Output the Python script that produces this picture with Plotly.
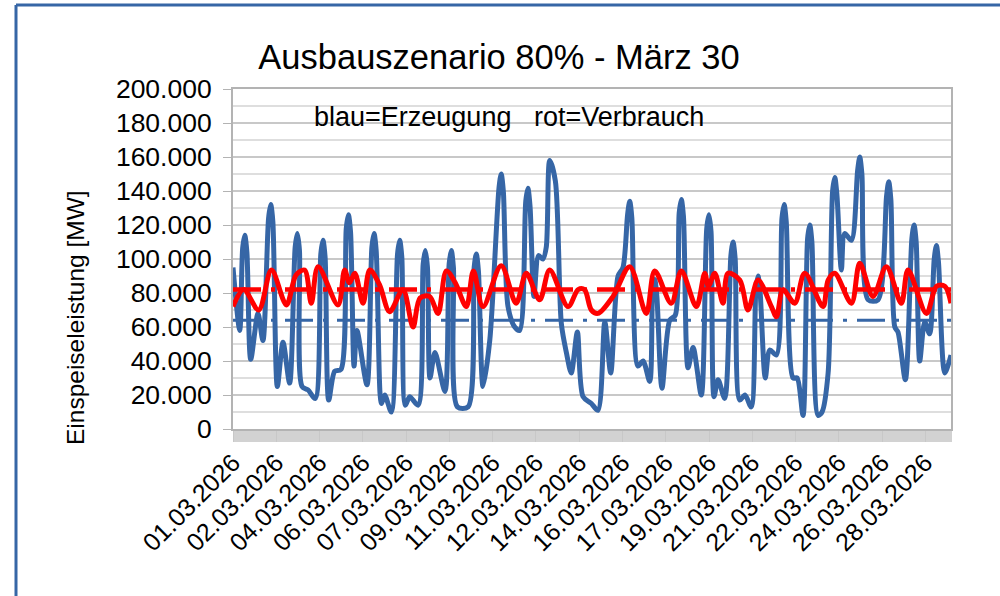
import plotly.graph_objects as go

# ---------------- data ----------------
# hours since 01.03.2026 00:00, power in thousands of MW
blue_hours = [0, 6.3, 9, 11, 13, 16.6, 23.4, 28, 33.3, 35.3, 37.3, 41.5, 46.8, 53, 58.2, 60.2,
              62.2, 64.6, 70.2, 77, 82.2, 84.2, 86.2, 89.6, 95.2, 101, 106, 108, 110, 113.3,
              116, 125.4, 130, 132, 134, 137.6, 139, 142, 148.2, 154, 156, 158, 161.3, 165.4,
              173.2, 178, 180, 182, 184.4, 189, 198.4, 202.3, 204.3, 206.3, 210, 220, 225.7,
              227.7, 229.7, 234, 240.3, 249, 251, 253, 257.4, 263.7, 268.3, 274, 276, 278,
              281.7, 286, 290, 293.2, 296.4, 301.7, 307.3, 312, 316.6, 322.3, 327.6, 335.4,
              341.6, 348, 353.5, 360.4, 365, 369.3, 371.3, 373.3, 379, 383.8, 390, 392.7,
              394.7, 396.7, 401.5, 408.8, 414, 417.6, 419.6, 421.6, 425.9, 430.6, 438.3,
              443.4, 445.4, 447.4, 450.2, 454, 460.2, 466, 468, 470, 474.3, 479.2, 485, 489.4,
              491.4, 493.4, 498.2, 502.4, 508.6, 513.8, 515.8, 517.8, 524.2, 528, 533.5,
              537.8, 539.8, 541.8, 547.6, 551.3, 557, 561.2, 563.2, 565.2, 569.4, 572.5,
              578.8, 584.6, 586.6, 588.6, 594.4, 603.7, 611.7, 613.7, 615.7, 619.4, 622.4,
              629.3, 635.4, 637.4, 639.4, 642.7, 647.4, 652, 656.3, 658.3, 660.3, 666.2, 672]
blue_kmw = [95, 58, 106, 114, 104, 41, 68, 52, 124, 132, 122, 25, 51, 27, 107, 115,
            105, 25, 23, 18, 103, 111, 101, 17, 34, 35, 118, 126, 116, 37,
            58, 26, 107, 115, 105, 21, 15, 20, 10, 103, 111, 101, 14, 19,
            14, 97, 105, 95, 30, 45, 22, 97, 105, 95, 13, 13, 95,
            103, 93, 25, 52, 142, 150, 140, 72, 60, 58, 134, 141.6, 131,
            78, 102, 100, 107, 158, 146, 62, 45, 33, 57, 19, 15,
            11, 63, 33, 90, 95, 126, 134, 124, 37, 40, 28, 80,
            88, 78, 24, 64, 67, 127, 135, 125, 36, 48, 20,
            118, 126, 116, 19, 29, 18, 102, 110, 100, 17, 20, 13, 82,
            90, 80, 30, 46.5, 43.5, 124, 132, 122, 30, 30, 8,
            112, 120, 110, 8, 10, 33, 140, 148, 138, 93.5, 115,
            111, 152, 160, 150, 76, 76, 137, 145.5, 135, 60, 57,
            29, 112, 120, 110, 40, 63, 56, 100, 108, 98, 33, 43.5]

red_hours = [0, 10, 24, 36, 50, 59, 67, 73.3, 79.6, 98.3, 104.5, 109, 114, 121.7, 128, 137,
             146.6, 159, 168.5, 175, 184, 191.9, 199.7, 208, 218.4, 225, 234, 251, 265, 274.5,
             287, 296.4, 313.6, 323, 329, 335.4, 341.6, 355.7, 371.3, 386.8, 394.7, 410.2,
             419.6, 433.7, 441.5, 445, 450.9, 458.6, 463.3, 474.3, 482, 491.4, 503.9, 508.6,
             514.8, 525.7, 535.1, 552.2, 557, 563.2, 578.8, 586.6, 599, 611.5, 625.5, 631.8,
             649, 658.4, 666.2, 672]
red_kmw = [72, 82, 70, 93.5, 73, 90.6, 93.5, 74, 95.5, 73, 93.5, 86,
           91.6, 74, 93.5, 85, 69, 82, 60, 77, 78, 68, 93, 86,
           72, 93, 72, 96, 74, 91.6, 76, 93.5, 72, 82, 82, 70,
           68, 78, 95.5, 68, 93, 74, 93, 72, 91.6, 84, 91.6, 74,
           91.6, 87.6, 70, 87.6, 72, 66, 82, 74, 91.6, 72, 87.6, 91.6,
           74, 97.5, 78, 95.5, 74, 93.5, 68, 84, 84, 74]

mean_generation_kmw = 64
mean_consumption_kmw = 82

date_labels = ["01.03.2026", "02.03.2026", "04.03.2026", "06.03.2026", "07.03.2026",
               "09.03.2026", "11.03.2026", "12.03.2026", "14.03.2026", "16.03.2026",
               "17.03.2026", "19.03.2026", "21.03.2026", "22.03.2026", "24.03.2026",
               "26.03.2026", "28.03.2026"]
label_step_hours = 40.5
total_hours = 672

# ---------------- figure ----------------
BLUE = "#3666a6"
RED = "#ff0000"
GRID = "#c8c8c8"
AXIS = "#b3b3b3"
FONT = "Liberation Sans, Arial, sans-serif"

to_mw = lambda vals: [v * 1000 for v in vals]

fig = go.Figure()
fig.add_trace(go.Scatter(x=blue_hours, y=to_mw(blue_kmw), mode="lines",
                         line=dict(color=BLUE, width=5, shape="spline", smoothing=0.8),
                         hoverinfo="skip"))
fig.add_trace(go.Scatter(x=[0, total_hours], y=to_mw([mean_generation_kmw] * 2),
                         mode="lines",
                         line=dict(color=BLUE, width=3, dash="28px,10px,4px,10px"),
                         hoverinfo="skip"))
fig.add_trace(go.Scatter(x=red_hours, y=to_mw(red_kmw), mode="lines",
                         line=dict(color=RED, width=5, shape="spline", smoothing=0.9),
                         hoverinfo="skip"))
fig.add_trace(go.Scatter(x=[0, total_hours], y=to_mw([mean_consumption_kmw] * 2),
                         mode="lines",
                         line=dict(color=RED, width=4.5, dash="28px,10px,4px,10px"),
                         hoverinfo="skip"))

tickvals = [i * label_step_hours for i in range(len(date_labels))]

fig.update_layout(
    width=1000, height=596,
    margin=dict(l=233, r=49, t=89, b=167),
    paper_bgcolor="white", plot_bgcolor="white",
    showlegend=False,
    separators=",.",
    font=dict(family=FONT, color="black"),
    title=dict(text="Ausbauszenario 80% - März 30", x=0.499, xanchor="center",
               y=1 - 57 / 596, yanchor="middle", font=dict(size=34.5, family=FONT)),
    xaxis=dict(range=[0, total_hours], tickmode="array", tickvals=tickvals,
               ticktext=date_labels, tickangle=-45, ticks="outside", ticklen=11,
               tickcolor="#c8c8c8", showgrid=False, showline=True, linecolor=AXIS,
               linewidth=2, mirror=True, zeroline=False,
               tickfont=dict(size=25, family=FONT), ticklabelstandoff=-4,
               minor=dict(ticks="outside", ticklen=11, dtick=0.5, tickcolor="#d2d2d2",
                          tickwidth=1, showgrid=False)),
    yaxis=dict(range=[0, 200000], dtick=20000, tickformat=",.0f", ticks="outside",
               ticklen=8, tickcolor=AXIS, showgrid=True, gridcolor=GRID, gridwidth=1.5,
               showline=True, linecolor=AXIS, linewidth=2, mirror=True, zeroline=False,
               tickfont=dict(size=26.5, family=FONT), ticklabelstandoff=6,
               minor=dict(dtick=10000, showgrid=True, gridcolor="#dedede",
                          gridwidth=1.5)),
)

fig.add_annotation(text="blau=Erzeugung   rot=Verbrauch", xref="paper", yref="paper",
                   x=(509 - 233) / 718, y=(429 - 117) / 340, showarrow=False,
                   font=dict(size=27, family=FONT), xanchor="center", yanchor="middle")
fig.add_annotation(text="Einspeiseleistung [MW]", xref="paper", yref="paper",
                   x=(75 - 233) / 718, y=(429 - 318) / 340, showarrow=False,
                   textangle=-90, font=dict(size=24.5, family=FONT),
                   xanchor="center", yanchor="middle")

# outer blue frame of the chart object
fig.add_shape(type="line", xref="paper", yref="paper",
              x0=(16 - 233) / 718, x1=(16 - 233) / 718, y0=(429 - 620) / 340,
              y1=(429 - 5) / 340, line=dict(color=BLUE, width=3))
fig.add_shape(type="line", xref="paper", yref="paper",
              x0=(16 - 233) / 718, x1=(1020 - 233) / 718, y0=(429 - 5) / 340,
              y1=(429 - 5) / 340, line=dict(color=BLUE, width=3))

fig.write_html("out.html", config={"displayModeBar": False},
               post_script="document.body.style.margin='0px';")
